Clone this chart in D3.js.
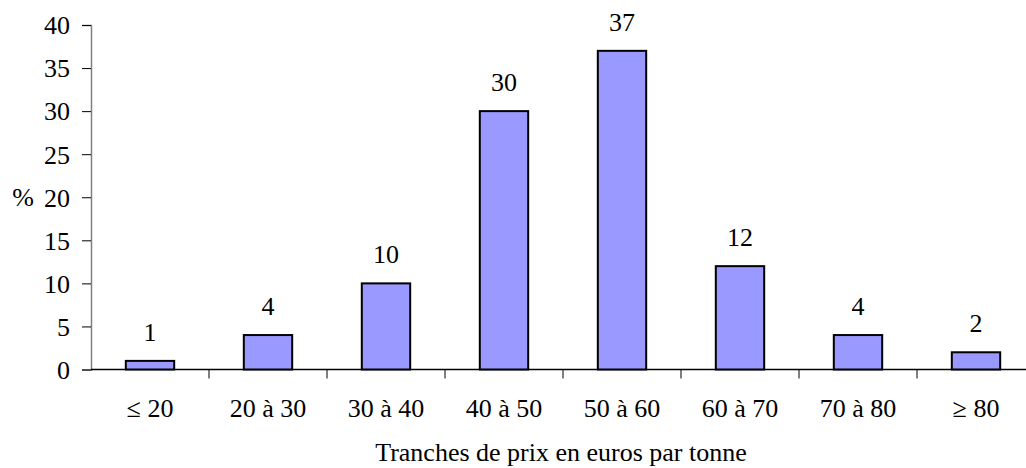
<!DOCTYPE html>
<html>
<head>
<meta charset="utf-8">
<script src="https://cdn.jsdelivr.net/npm/d3@7"></script>
<style>
  html, body { margin: 0; padding: 0; background: #fff; overflow: hidden; }
  svg text { font-family: "Liberation Serif", "Times New Roman", serif; fill: #000; font-size: 26px; }
</style>
</head>
<body>
<svg id="chart" width="1026" height="468"></svg>
<script>
// Share of volumes by price band (euros per tonne)
const categories = ["≤ 20", "20 à 30", "30 à 40", "40 à 50", "50 à 60", "60 à 70", "70 à 80", "≥ 80"];
const values = [1, 4, 10, 30, 37, 12, 4, 2];
const yTicks = [0, 5, 10, 15, 20, 25, 30, 35, 40];
const xTitle = "Tranches de prix en euros par tonne";
const yTitle = "%";

(function draw() {
  const svg = d3.select("#chart");
  const plotLeft = 91, plotRight = 1035, plotTop = 25, plotBottom = 369.5;

  const x = d3.scaleBand().domain(categories).range([plotLeft, plotRight]).paddingInner(0.59).paddingOuter(0.295);
  const y = d3.scaleLinear().domain([0, 40]).range([plotBottom, plotTop]);

  // Y axis
  const yAxis = svg.append("g").attr("transform", `translate(${plotLeft},0)`)
    .call(d3.axisLeft(y).tickValues(yTicks).tickSize(9).tickPadding(12));
  yAxis.attr("font-family", null).attr("font-size", null);
  yAxis.select(".domain").attr("stroke", "#808080").attr("stroke-width", 1.5);
  yAxis.selectAll(".tick line").attr("stroke", "#000").attr("stroke-width", 1);
  yAxis.selectAll(".tick text").attr("dy", "0.34em");

  // X axis baseline with separators between bands
  const step = x.step();
  svg.append("line").attr("x1", plotLeft).attr("x2", plotRight).attr("y1", plotBottom).attr("y2", plotBottom)
    .attr("stroke", "#000").attr("stroke-width", 1.5);
  svg.append("g").selectAll("line").data(d3.range(1, categories.length)).join("line")
    .attr("x1", i => plotLeft + i * step).attr("x2", i => plotLeft + i * step)
    .attr("y1", plotBottom).attr("y2", plotBottom + 9)
    .attr("stroke", "#000").attr("stroke-width", 1);

  // Category labels
  svg.append("g").selectAll("text").data(categories).join("text")
    .attr("x", d => x(d) + x.bandwidth() / 2)
    .attr("y", 417)
    .attr("text-anchor", "middle")
    .text(d => d);

  // Bars
  svg.append("g").selectAll("rect").data(values).join("rect")
    .attr("x", (d, i) => x(categories[i]))
    .attr("y", d => y(d))
    .attr("width", x.bandwidth())
    .attr("height", d => y(0) - y(d))
    .attr("fill", "#9999FF")
    .attr("stroke", "#000")
    .attr("stroke-width", 2);

  // Value labels
  svg.append("g").selectAll("text").data(values).join("text")
    .attr("x", (d, i) => x(categories[i]) + x.bandwidth() / 2)
    .attr("y", d => y(d) - 20)
    .attr("text-anchor", "middle")
    .text(d => d);

  // Axis titles
  svg.append("text").attr("x", 561).attr("y", 461).attr("text-anchor", "middle").text(xTitle);
  svg.append("text").attr("x", 23).attr("y", y(20) + 9).attr("text-anchor", "middle").text(yTitle);
})();
</script>
</body>
</html>
